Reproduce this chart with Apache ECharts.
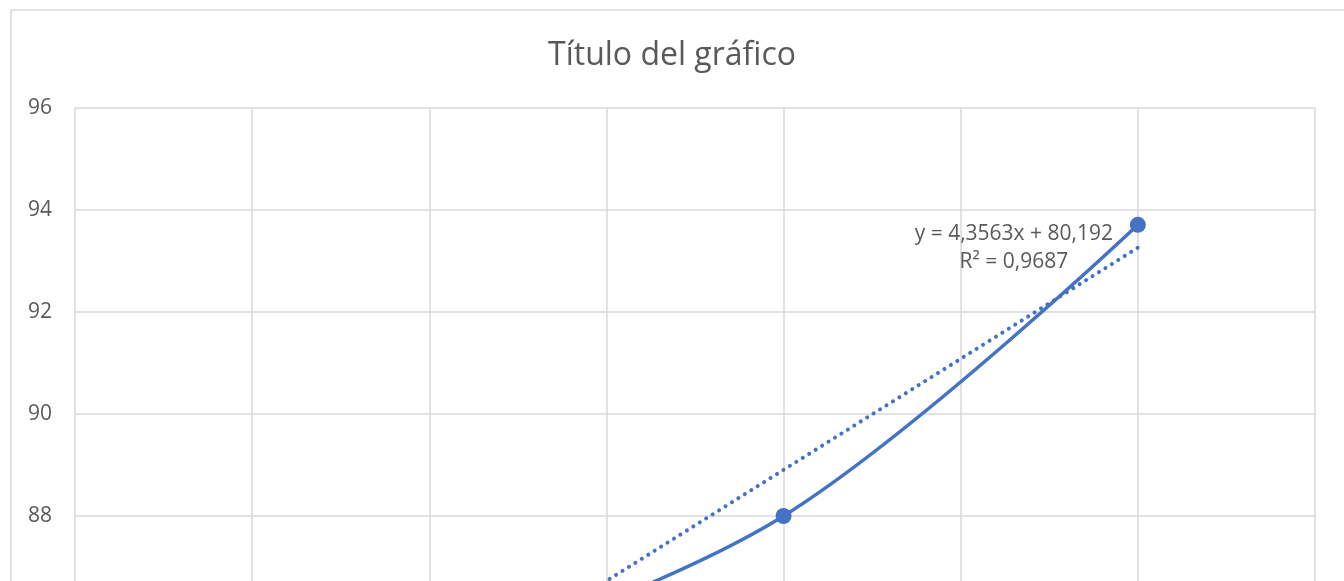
<!DOCTYPE html>
<html>
<head>
<meta charset="utf-8">
<script src="https://cdn.jsdelivr.net/npm/echarts@6/dist/echarts.min.js"></script>
<style>
  html, body { margin: 0; padding: 0; overflow: hidden; background: #fff; }
  #chart { width: 1344px; height: 800px; }
</style>
</head>
<body>
<div id="chart"></div>
<script>
// datos
var xValues = [1, 2, 3];
var yValues = [85, 88, 93.71];
// línea de tendencia (según la etiqueta)
var trendSlope = 4.3563;
var trendIntercept = 80.192;
var trendLabel = ['y = 4,3563x + 80,192', 'R² = 0,9687'];
var yTicks = { min: 84, max: 96, interval: 2 };
var xTicks = { min: 0, max: 3.5, interval: 0.5 };

var myChart = echarts.init(document.getElementById('chart'));

var points = xValues.map(function (x, i) { return [x, yValues[i]]; });
var xFirst = xValues[0], xLast = xValues[xValues.length - 1];
var trendPoints = [
    [xFirst, trendIntercept + trendSlope * xFirst],
    [xLast, trendIntercept + trendSlope * xLast]
];

var blue = '#4472c4';
var gridColor = '#d9d9d9';
var textColor = '#595959';
var font = 'Open Sans';
var tickRich = { t: { fontFamily: font, fontSize: 21, color: textColor } };

var option = {
    animation: false,
    textStyle: { fontFamily: font },
    title: {
        text: 'Título del gráfico',
        left: 'center',
        top: 35,
        textStyle: { fontFamily: font, fontSize: 32, fontWeight: 'normal', color: textColor }
    },
    graphic: [{
        type: 'rect',
        shape: { x: 11, y: 10, width: 1345, height: 780 },
        style: { fill: 'none', stroke: gridColor, lineWidth: 1.5 },
        silent: true
    }],
    grid: { left: 75, top: 108, right: 29, bottom: 80, containLabel: false },
    xAxis: {
        type: 'value',
        min: xTicks.min, max: xTicks.max, interval: xTicks.interval,
        axisLine: { show: false },
        axisTick: { show: false },
        splitLine: { show: true, lineStyle: { color: gridColor, width: 1.5 } },
        axisLabel: {
            formatter: function (v) { return '{t|' + String(v).replace('.', ',') + '}'; },
            rich: tickRich
        }
    },
    yAxis: {
        type: 'value',
        min: yTicks.min, max: yTicks.max, interval: yTicks.interval,
        axisLine: { show: false },
        axisTick: { show: false },
        splitLine: { show: true, lineStyle: { color: gridColor, width: 1.5 } },
        axisLabel: {
            margin: 23,
            formatter: function (v) { return '{t|' + v + '}'; },
            rich: tickRich
        }
    },
    series: [
        {
            name: 'datos',
            type: 'line',
            data: points,
            smooth: 0.35,
            symbol: 'circle',
            symbolSize: 16,
            itemStyle: { color: blue },
            lineStyle: { color: blue, width: 3.5 },
            z: 3
        },
        {
            name: 'tendencia',
            type: 'line',
            data: trendPoints,
            symbol: 'none',
            lineStyle: { color: blue, width: 4, type: [0.1, 7.5], cap: 'round' },
            z: 2,
            markPoint: {
                symbol: 'circle',
                symbolSize: 0,
                data: [{ coord: trendPoints[1] }],
                label: {
                    show: true,
                    formatter: trendLabel.join('\n'),
                    position: 'inside',
                    offset: [-124, 0],
                    align: 'center',
                    lineHeight: 28,
                    color: textColor,
                    fontFamily: font,
                    fontSize: 21
                }
            }
        }
    ]
};
myChart.setOption(option);
</script>
</body>
</html>
